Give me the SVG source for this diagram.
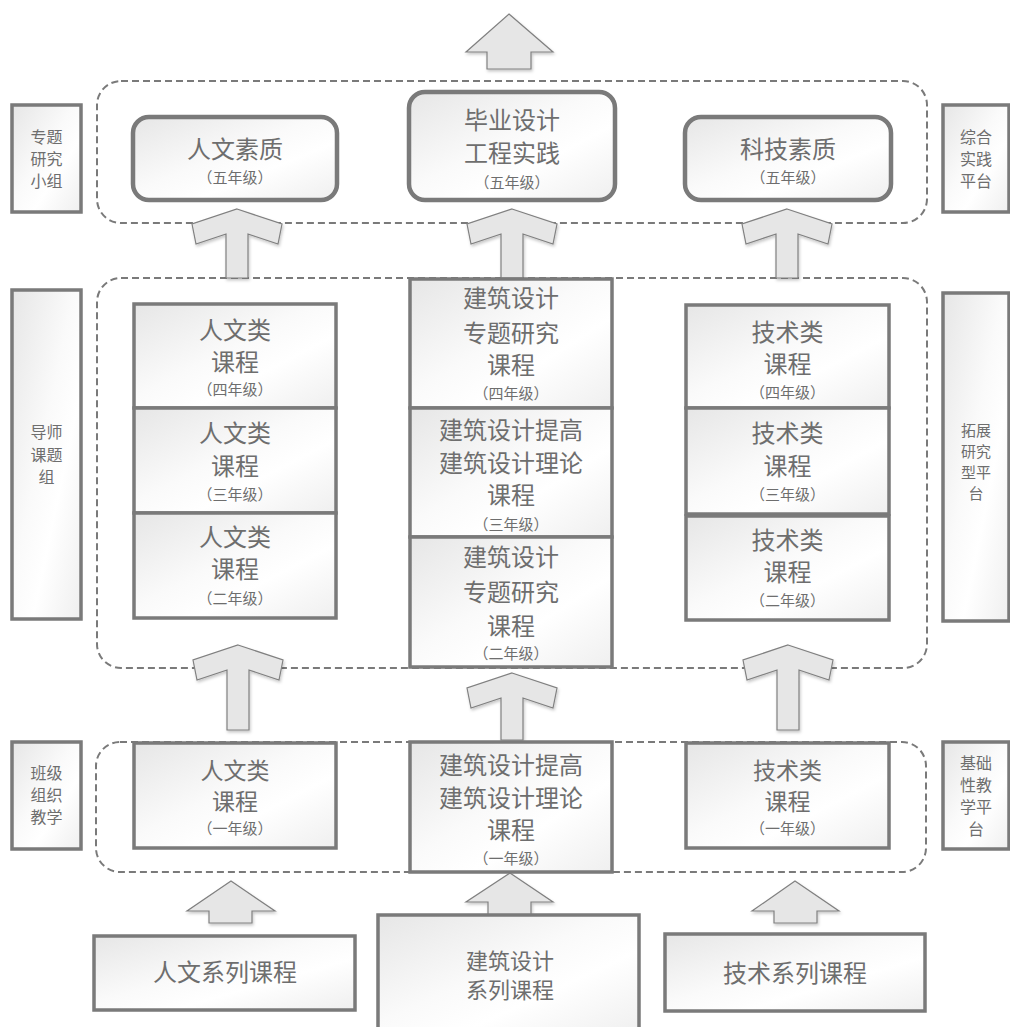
<svg xmlns="http://www.w3.org/2000/svg" width="1010" height="1027" viewBox="0 0 1010 1027">
<defs>
<linearGradient id="g" x1="0" y1="0" x2="1" y2="1">
<stop offset="0" stop-color="#e6e6e6"/>
<stop offset="0.45" stop-color="#fafafa"/>
<stop offset="0.65" stop-color="#ffffff"/>
<stop offset="1" stop-color="#efefef"/>
</linearGradient>
<filter id="sh" x="-20%" y="-20%" width="140%" height="140%">
<feDropShadow dx="1" dy="2" stdDeviation="1.5" flood-color="#000" flood-opacity="0.22"/>
</filter>
</defs>
<style>
.box{fill:url(#g);stroke:#7a7a7a;stroke-width:3.5}
.rbox{fill:url(#g);stroke:#7a7a7a;stroke-width:4.5}
.dash{fill:none;stroke:#7a7a7a;stroke-width:2;stroke-dasharray:7 4}
.arr{fill:#e6e6e6;stroke:#808080;stroke-width:1.2;filter:url(#sh)}
text{font-family:"Noto Sans CJK SC","Noto Sans",sans-serif;fill:#6e6e6e;text-anchor:middle}
.t{font-size:24px}
.t2{font-size:22px}
.t3{font-size:23px}
.s{font-size:15px}
.side{font-size:16px}
.side2{font-size:15px}
</style>
<rect fill="#ffffff" x="0" y="0" width="1010" height="1027"/>

<g id="containers">
<rect class="dash" x="97" y="81" width="830" height="142" rx="24"/>
<rect class="dash" x="97" y="278" width="830" height="390" rx="24"/>
<rect class="dash" x="96" y="742" width="830" height="130" rx="24"/>
</g>

<g id="connectors">
<path class="arr" d="M509,14 L553,52 L531,52 L531,69 L487,69 L487,52 L466,52 Z"/>
<path class="arr" d="M237,209 L282,224 L278,244 L248,234 L248,278 L226,278 L226,234 L196,244 L192,224 Z"/>
<path class="arr" d="M512,209 L557,224 L553,244 L523,234 L523,278 L501,278 L501,234 L471,244 L467,224 Z"/>
<path class="arr" d="M787,209 L832,224 L828,244 L798,234 L798,278 L776,278 L776,234 L746,244 L742,224 Z"/>
<path class="arr" d="M238,645 L283,660 L279,680 L249,670 L249,730 L227,730 L227,670 L197,680 L193,660 Z"/>
<path class="arr" d="M512,673 L557,688 L553,708 L523,698 L523,740 L501,740 L501,698 L471,708 L467,688 Z"/>
<path class="arr" d="M788,645 L833,660 L829,680 L799,670 L799,730 L777,730 L777,670 L747,680 L743,660 Z"/>
<path class="arr" d="M231,881 L275,911 L252,911 L252,923 L209,923 L209,911 L187,911 Z"/>
<path class="arr" d="M510,873 L553,902 L531,902 L531,916 L488,916 L488,902 L466,902 Z"/>
<path class="arr" d="M795,881 L839,911 L817,911 L817,923 L774,923 L774,911 L752,911 Z"/>
</g>

<g id="side-zhuanti">
<rect class="box" x="12" y="105" width="69" height="107"/>
<text class="side" x="46.5" y="143">专题</text>
<text class="side" x="46.5" y="165">研究</text>
<text class="side" x="46.5" y="187">小组</text>
</g>
<g id="side-zonghe">
<rect class="box" x="943" y="105" width="66" height="107"/>
<text class="side" x="976" y="143">综合</text>
<text class="side" x="976" y="165">实践</text>
<text class="side" x="976" y="187">平台</text>
</g>
<g id="side-daoshi">
<rect class="box" x="12" y="290" width="69" height="329"/>
<text class="side" x="46.5" y="438">导师</text>
<text class="side" x="46.5" y="460.5">课题</text>
<text class="side" x="46.5" y="483">组</text>
</g>
<g id="side-tuozhan">
<rect class="box" x="943" y="293" width="66" height="328"/>
<text class="side2" x="976" y="436">拓展</text>
<text class="side2" x="976" y="457">研究</text>
<text class="side2" x="976" y="478">型平</text>
<text class="side2" x="976" y="499">台</text>
</g>
<g id="side-jichu">
<rect class="box" x="943" y="742" width="66" height="107"/>
<text class="side" x="976" y="769">基础</text>
<text class="side" x="976" y="791">性教</text>
<text class="side" x="976" y="813">学平</text>
<text class="side" x="976" y="835">台</text>
</g>
<g id="side-banji">
<rect class="box" x="12" y="742" width="69" height="107"/>
<text class="side" x="46.5" y="779">班级</text>
<text class="side" x="46.5" y="801">组织</text>
<text class="side" x="46.5" y="823">教学</text>
</g>

<g id="renwen-suzhi">
<rect class="rbox" x="133" y="117" width="204" height="83" rx="16"/>
<text class="t" x="235" y="158">人文素质</text>
<text class="s" x="235" y="183">（五年级）</text>
</g>
<g id="biye-sheji">
<rect class="rbox" x="409" y="92" width="206" height="108" rx="16"/>
<text class="t" x="512" y="129">毕业设计</text>
<text class="t" x="512" y="162">工程实践</text>
<text class="s" x="512" y="188">（五年级）</text>
</g>
<g id="keji-suzhi">
<rect class="rbox" x="685" y="117" width="206" height="83" rx="16"/>
<text class="t" x="788" y="158">科技素质</text>
<text class="s" x="788" y="183">（五年级）</text>
</g>

<g id="renwen-4">
<rect class="box" x="134" y="304" width="202" height="104"/>
<text class="t" x="235" y="339">人文类</text>
<text class="t" x="235" y="371">课程</text>
<text class="s" x="235" y="395">（四年级）</text>
</g>
<g id="renwen-3">
<rect class="box" x="134" y="408" width="202" height="105"/>
<text class="t" x="235" y="442">人文类</text>
<text class="t" x="235" y="475">课程</text>
<text class="s" x="235" y="500">（三年级）</text>
</g>
<g id="renwen-2">
<rect class="box" x="134" y="513" width="202" height="105"/>
<text class="t" x="235" y="546">人文类</text>
<text class="t" x="235" y="578">课程</text>
<text class="s" x="235" y="604">（二年级）</text>
</g>

<g id="jianzhu-4">
<rect class="box" x="410" y="279" width="202" height="129"/>
<text class="t" x="511" y="307">建筑设计</text>
<text class="t" x="511" y="342">专题研究</text>
<text class="t" x="511" y="374">课程</text>
<text class="s" x="511" y="399">（四年级）</text>
</g>
<g id="jianzhu-3">
<rect class="box" x="410" y="408" width="202" height="129"/>
<text class="t" x="511" y="439">建筑设计提高</text>
<text class="t" x="511" y="472">建筑设计理论</text>
<text class="t" x="511" y="504">课程</text>
<text class="s" x="511" y="530">（三年级）</text>
</g>
<g id="jianzhu-2">
<rect class="box" x="410" y="537" width="202" height="130"/>
<text class="t" x="511" y="566">建筑设计</text>
<text class="t" x="511" y="601">专题研究</text>
<text class="t" x="511" y="635">课程</text>
<text class="s" x="511" y="659">（二年级）</text>
</g>

<g id="jishu-4">
<rect class="box" x="686" y="305" width="203" height="103"/>
<text class="t" x="787.5" y="341">技术类</text>
<text class="t" x="787.5" y="373">课程</text>
<text class="s" x="787.5" y="398">（四年级）</text>
</g>
<g id="jishu-3">
<rect class="box" x="686" y="408" width="203" height="106"/>
<text class="t" x="787.5" y="442">技术类</text>
<text class="t" x="787.5" y="475">课程</text>
<text class="s" x="787.5" y="500">（三年级）</text>
</g>
<g id="jishu-2">
<rect class="box" x="686" y="516" width="203" height="104"/>
<text class="t" x="787.5" y="549">技术类</text>
<text class="t" x="787.5" y="581">课程</text>
<text class="s" x="787.5" y="606">（二年级）</text>
</g>

<g id="renwen-1">
<rect class="box" x="134" y="743" width="202" height="105"/>
<text class="t3" x="235" y="778.5">人文类</text>
<text class="t3" x="235" y="809.5">课程</text>
<text class="s" x="235" y="834">（一年级）</text>
</g>
<g id="jianzhu-1">
<rect class="box" x="410" y="742" width="202" height="130"/>
<text class="t" x="511" y="774">建筑设计提高</text>
<text class="t" x="511" y="807">建筑设计理论</text>
<text class="t" x="511" y="839">课程</text>
<text class="s" x="511" y="864">（一年级）</text>
</g>
<g id="jishu-1">
<rect class="box" x="686" y="743" width="203" height="105"/>
<text class="t3" x="787.5" y="778.5">技术类</text>
<text class="t3" x="787.5" y="809.5">课程</text>
<text class="s" x="787.5" y="834">（一年级）</text>
</g>

<g id="renwen-xilie">
<rect class="box" x="94" y="936" width="261" height="74"/>
<text class="t" x="225" y="981">人文系列课程</text>
</g>
<g id="jianzhu-xilie">
<rect class="box" x="378" y="915" width="261" height="120"/>
<text class="t2" x="510" y="968.5">建筑设计</text>
<text class="t2" x="510" y="997.5">系列课程</text>
</g>
<g id="jishu-xilie">
<rect class="box" x="665" y="934" width="260" height="77"/>
<text class="t" x="795" y="982">技术系列课程</text>
</g>
</svg>
